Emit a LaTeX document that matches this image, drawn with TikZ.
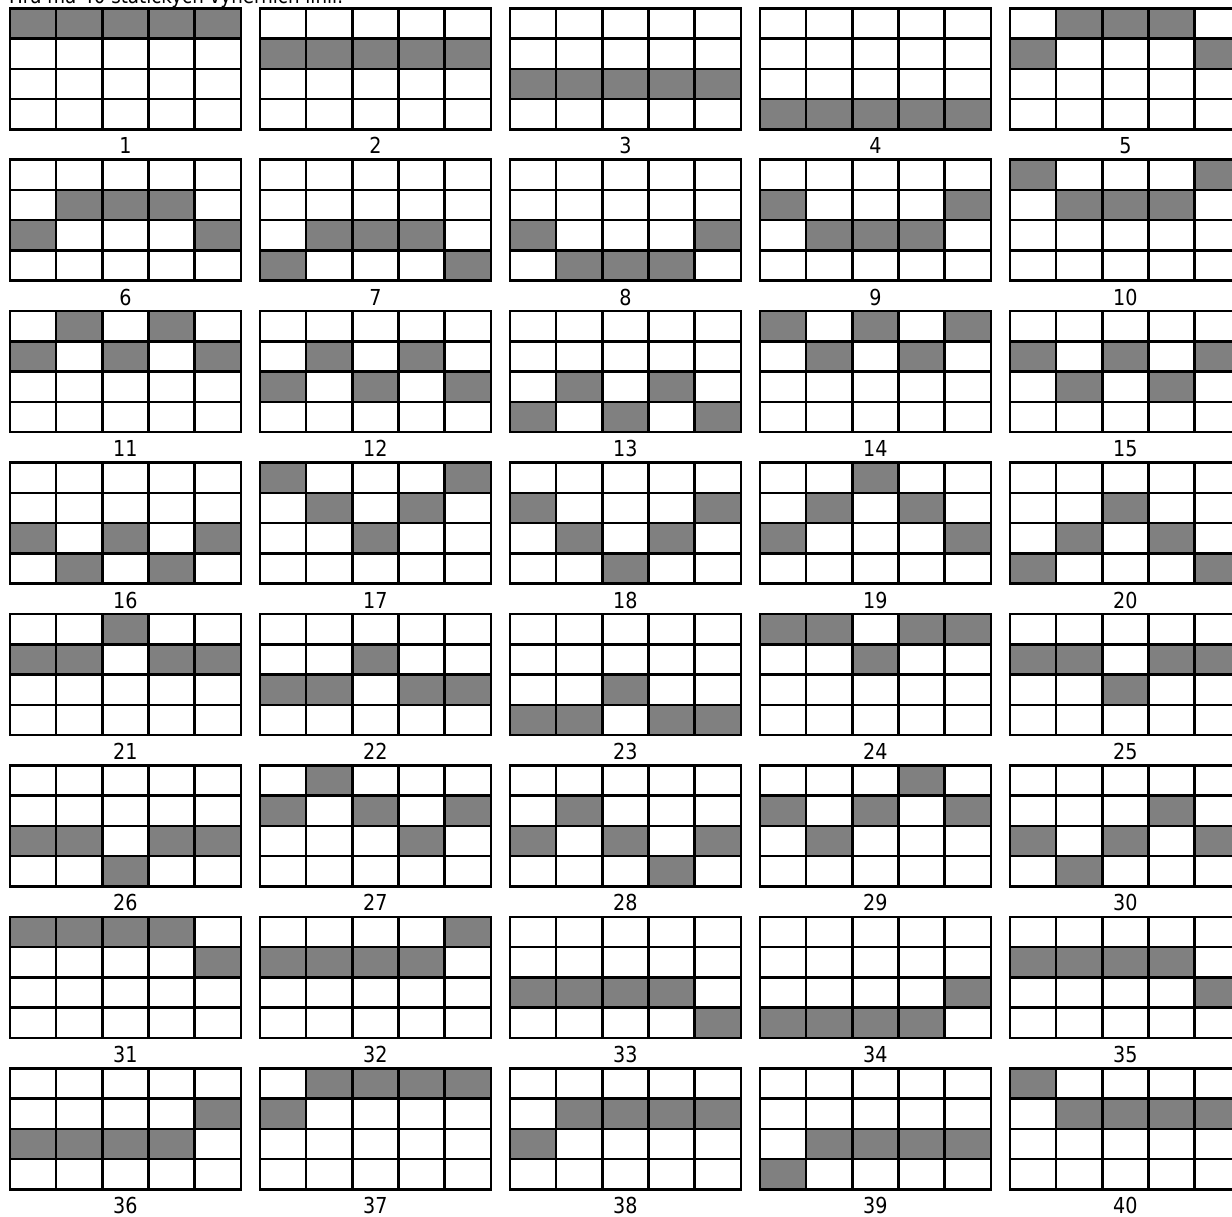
\documentclass[tikz,border=0pt]{standalone}
\usepackage{fontspec}
\setmainfont{DejaVu Sans}[FakeStretch=0.87]
\usepackage{tikz}
\usetikzlibrary{positioning}

\begin{document}
\begin{tikzpicture}[x=1pt, y=-1pt,
    cellfill/.style={fill=gray},
    gridline/.style={draw=black, line width=2.5pt},
    numlabel/.style={anchor=base, inner sep=0pt, font=\fontsize{22}{26}\selectfont},
    headline/.style={anchor=base west, inner sep=0pt, font=\fontsize{21}{25}\selectfont}]
  \useasboundingbox (0,0) rectangle (1232,1217);
  \node[headline] (title) at (9,4) {Hra má 40 statických výherních linií.};
  % one 5x4 grid per line, shaded row given per column
  \foreach \pat [count=\n] in {{0,0,0,0,0},{1,1,1,1,1},{2,2,2,2,2},{3,3,3,3,3},{1,0,0,0,1},
      {2,1,1,1,2},{3,2,2,2,3},{2,3,3,3,2},{1,2,2,2,1},{0,1,1,1,0},
      {1,0,1,0,1},{2,1,2,1,2},{3,2,3,2,3},{0,1,0,1,0},{1,2,1,2,1},
      {2,3,2,3,2},{0,1,2,1,0},{1,2,3,2,1},{2,1,0,1,2},{3,2,1,2,3},
      {1,1,0,1,1},{2,2,1,2,2},{3,3,2,3,3},{0,0,1,0,0},{1,1,2,1,1},
      {2,2,3,2,2},{1,0,1,2,1},{2,1,2,3,2},{1,2,1,0,1},{2,3,2,1,2},
      {0,0,0,0,1},{1,1,1,1,0},{2,2,2,2,3},{3,3,3,3,2},{1,1,1,1,2},
      {2,2,2,2,1},{1,0,0,0,0},{2,1,1,1,1},{3,2,2,2,2},{0,1,1,1,1}} {
    \pgfmathtruncatemacro\col{mod(\n-1,5)}
    \pgfmathtruncatemacro\row{int((\n-1)/5)}
    \begin{scope}[shift={(10+250*\col,8.3+151.43*\row)}]
      \foreach \r [count=\c from 0] in \pat
        \fill[cellfill] (\c*46.15,\r*30.25) rectangle ++(46.15,30.25);
      \foreach \i in {1,...,4}
        \draw[gridline] (\i*46.15,0) -- (\i*46.15,121);
      \foreach \j in {1,2,3}
        \draw[gridline] (0,\j*30.25) -- (230.75,\j*30.25);
      \draw[gridline] (0,0) rectangle (230.75,121);
      \node[numlabel] (lbl\n) at (115.4,145.5) {\n};
    \end{scope}
  }
\end{tikzpicture}
\end{document}
